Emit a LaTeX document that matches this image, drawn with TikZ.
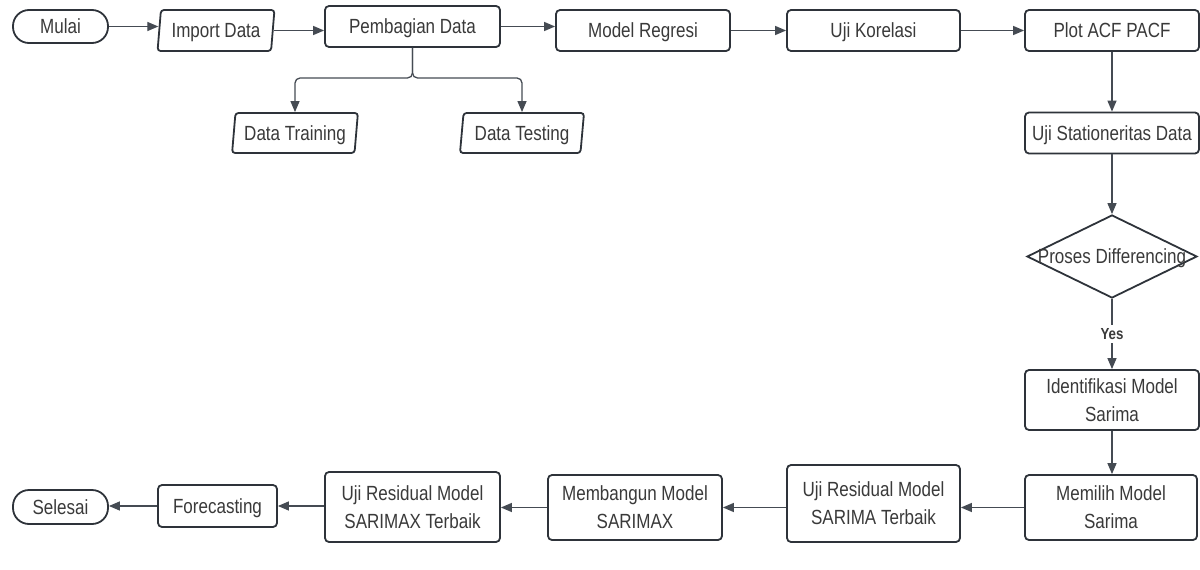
\documentclass[tikz,border=0pt]{standalone}
\usepackage{fontspec}
\setmainfont{Liberation Sans}[FakeStretch=0.83]
\usetikzlibrary{shapes.geometric,arrows.meta}
\definecolor{lc}{HTML}{2E333A}
\definecolor{ac}{HTML}{454B53}
\definecolor{tc}{HTML}{3A3A3A}
\begin{document}
\begin{tikzpicture}[x=1pt,y=-1pt,
  base/.style={draw=lc, line width=1.8pt, fill=white, text=tc,
    font=\fontsize{20.5}{28}\selectfont, align=center, inner sep=0pt, text depth=0pt},
  box/.style={base, rectangle, rounded corners=4pt},
  term/.style={base, rectangle, rounded corners=16pt},
  io/.style={base, trapezium, trapezium left angle=79, trapezium right angle=101,
    trapezium stretches=true, rounded corners=3pt},
  dec/.style={base, diamond},
  arr/.style={draw=ac, line width=1.3pt, -{Triangle[length=11pt,width=9pt]}}
]
\useasboundingbox (0,0) rectangle (1200,570);

% top row
\node[term, minimum width=95pt, minimum height=33pt] (mulai) at (60.5,26.5) {Mulai};
\node[io, minimum width=118pt, minimum height=41pt] (import) at (216,30.5) {Import Data};
\node[box, minimum width=175pt, minimum height=41pt] (pemb) at (412.5,26.5) {Pembagian Data};
\node[box, minimum width=174pt, minimum height=41pt] (regresi) at (643,30.5) {Model Regresi};
\node[box, minimum width=173pt, minimum height=41pt] (korelasi) at (873.5,30.5) {Uji Korelasi};
\node[box, minimum width=174pt, minimum height=41pt] (plot) at (1112,30.5) {Plot ACF PACF};

% split outputs
\node[io, minimum width=126pt, minimum height=40pt] (train) at (295,133) {Data Training};
\node[io, minimum width=125pt, minimum height=40pt] (test) at (522,133) {Data Testing};

% right column
\node[box, minimum width=174pt, minimum height=41pt] (stat) at (1112,133) {Uji Stationeritas Data};
\node[dec, minimum width=170pt, minimum height=83pt] (dif) at (1112,256.5) {};
\node[text=tc, font=\fontsize{20.5}{28}\selectfont, inner sep=0pt, text depth=0pt] (diftext) at (dif.center) {Proses Differencing};
\node[box, minimum width=174pt, minimum height=60pt] (ident) at (1112,400) {Identifikasi Model\\Sarima};

% bottom row
\node[box, minimum width=172pt, minimum height=65pt] (memilih) at (1111,507.5) {Memilih Model\\Sarima};
\node[box, minimum width=173pt, minimum height=77pt] (res1) at (873.5,503.5) {Uji Residual Model\\SARIMA Terbaik};
\node[box, minimum width=174pt, minimum height=65pt] (bangun) at (635,507.5) {Membangun Model\\SARIMAX};
\node[box, minimum width=175pt, minimum height=70pt] (res2) at (412.5,507) {Uji Residual Model\\SARIMAX Terbaik};
\node[box, minimum width=119pt, minimum height=42pt] (fore) at (217.5,506) {Forecasting};
\node[term, minimum width=95pt, minimum height=34pt] (selesai) at (60.5,507) {Selesai};

% connectors top row
\draw[arr] (mulai.east) -- (mulai.east -| import.west);
\draw[arr] (import.east) -- (import.east -| pemb.west);
\draw[arr] (pemb.east) -- (pemb.east -| regresi.west);
\draw[arr] (regresi.east) -- (regresi.east -| korelasi.west);
\draw[arr] (korelasi.east) -- (korelasi.east -| plot.west);

% split
\coordinate (split) at (412.5,78);
\draw[arr, rounded corners=5pt] (pemb.south) -- (split) -| (train.north);
\draw[arr, rounded corners=5pt] (pemb.south) -- (split) -| (test.north);

% right column
\draw[arr] (plot.south) -- (stat.north);
\draw[arr] (stat.south) -- (dif.north);
\draw[arr] (dif.south) -- node[fill=white, text=tc, inner sep=3pt, font=\bfseries\fontsize{16}{18}\selectfont] (yes) {Yes} (ident.north);
\draw[arr] (ident.south) -- (ident.south |- memilih.north);

% bottom row
\draw[arr] (memilih.west) -- (memilih.west -| res1.east);
\draw[arr] (bangun.east -| res1.west) -- (bangun.east);
\draw[arr] (bangun.west) -- (bangun.west -| res2.east);
\draw[arr] (fore.east -| res2.west) -- (fore.east);
\draw[arr] (fore.west) -- (fore.west -| selesai.east);
\end{tikzpicture}
\end{document}
